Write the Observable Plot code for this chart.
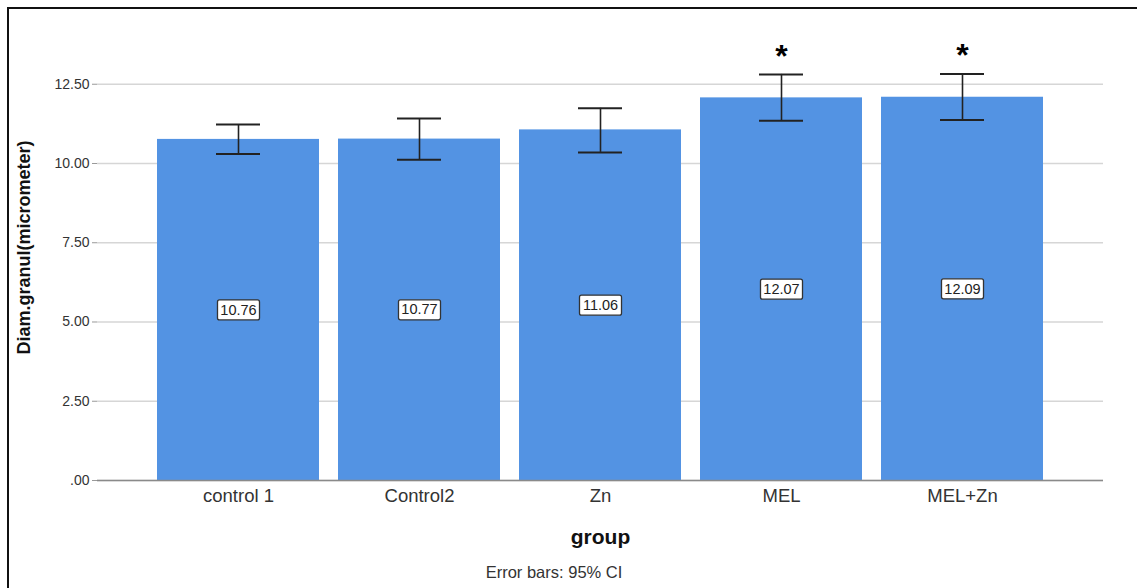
<!DOCTYPE html>
<html>
<head>
<meta charset="utf-8">
<script src="https://cdn.jsdelivr.net/npm/d3@7"></script>
<script src="https://cdn.jsdelivr.net/npm/@observablehq/plot@0.6"></script>
<style>
  html, body { margin: 0; padding: 0; background: #fff; }
  body { width: 1137px; height: 588px; position: relative; overflow: hidden; font-family: "Liberation Sans", Arial, sans-serif; }
  #frame { position: absolute; left: 7px; top: 7px; width: 1200px; height: 700px; border-left: 2px solid #111; border-top: 2px solid #111; pointer-events: none; }
  #chart { position: absolute; left: 0; top: 0; }
  #caption { position: absolute; left: 0; top: 563px; width: 1108px; text-align: center; font-size: 16.5px; color: #333; }
</style>
</head>
<body>
<div id="chart"></div>
<div id="caption">Error bars: 95% CI</div>
<div id="frame"></div>
<script>
const groups = ["control 1", "Control2", "Zn", "MEL", "MEL+Zn"];
const means  = [10.76, 10.77, 11.06, 12.07, 12.09];
const ciLow  = [10.30, 10.12, 10.35, 11.35, 11.37];
const ciHigh = [11.23, 11.42, 11.74, 12.81, 12.82];
const sigMarks = ["", "", "", "*", "*"];
const yTicks = [0, 2.5, 5, 7.5, 10, 12.5];

const data = groups.map((g, i) => ({group: g, mean: means[i], lo: ciLow[i], hi: ciHigh[i], sig: sigMarks[i]}));

const boxW = 42, boxH = 20;
function boxedRender(index, scales, values, dims, context, next) {
  const g = next(index, scales, values, dims, context);
  const ns = "http://www.w3.org/2000/svg";
  const first = g.firstChild;
  for (const i of index) {
    const d = data[i];
    const cx = scales.x(d.group);
    const cy = scales.y(d.mean / 2);
    const r = document.createElementNS(ns, "rect");
    r.setAttribute("x", cx - boxW / 2);
    r.setAttribute("y", cy - boxH / 2);
    r.setAttribute("width", boxW);
    r.setAttribute("height", boxH);
    r.setAttribute("rx", 2);
    r.setAttribute("fill", "#fff");
    r.setAttribute("stroke", "#333");
    r.setAttribute("stroke-width", 1.3);
    g.insertBefore(r, first);
  }
  return g;
}

const chart = Plot.plot({
  width: 1137,
  height: 555,
  marginLeft: 97,
  marginRight: 34,
  marginTop: 14,
  marginBottom: 75,
  style: {fontFamily: "'Liberation Sans', Arial, sans-serif", background: "transparent", color: "#333"},
  x: {domain: groups, paddingInner: 0.105, paddingOuter: 0.325},
  y: {domain: [0, 14.7]},
  marks: [
    Plot.gridY(yTicks, {stroke: "#d6d6d6", strokeOpacity: 1, strokeWidth: 1.5}),
    Plot.barY(data, {x: "group", y: "mean", fill: "#5393e3"}),
    Plot.ruleX(data, {x: "group", y1: "lo", y2: "hi", stroke: "#222", strokeWidth: 1.6}),
    Plot.tickY(data, {x: "group", y: "lo", inset: 59, stroke: "#222", strokeWidth: 2}),
    Plot.tickY(data, {x: "group", y: "hi", inset: 59, stroke: "#222", strokeWidth: 2}),
    Plot.text(data, {x: "group", y: d => d.mean / 2, text: d => d.mean.toFixed(2), fontSize: 14.5, fill: "#222", render: boxedRender}),
    Plot.text(data, {x: "group", y: "hi", text: "sig", dy: -18, fontSize: 32, fontWeight: "bold", fill: "#000"}),
    Plot.ruleX([0], {stroke: "#8a8a8a", strokeWidth: 1.5, frameAnchor: "left"}),
    Plot.ruleY([0], {stroke: "#8a8a8a", strokeWidth: 1.5}),
    Plot.axisY({
      ticks: yTicks,
      tickFormat: d => d === 0 ? ".00" : d.toFixed(2),
      tickSize: 5,
      tickPadding: 3,
      fontSize: 14,
      stroke: "#999",
      label: "Diam.granul(micrometer)",
      labelAnchor: "center",
      labelArrow: "none",
      labelOffset: 80
    }),
    Plot.axisX({
      tickSize: 0,
      tickPadding: 8,
      fontSize: 18.5,
      label: "group",
      labelAnchor: "center",
      labelArrow: "none",
      labelOffset: 63
    })
  ]
});

chart.querySelectorAll("[aria-label='y-axis label'] text, [aria-label='x-axis label'] text").forEach(t => {
  t.setAttribute("font-weight", "bold");
  t.setAttribute("fill", "#111");
});
const yl = chart.querySelector("[aria-label='y-axis label']");
if (yl) yl.setAttribute("font-size", 18);
const xl = chart.querySelector("[aria-label='x-axis label']");
if (xl) xl.setAttribute("font-size", 21);

document.getElementById("chart").appendChild(chart);
</script>
</body>
</html>
